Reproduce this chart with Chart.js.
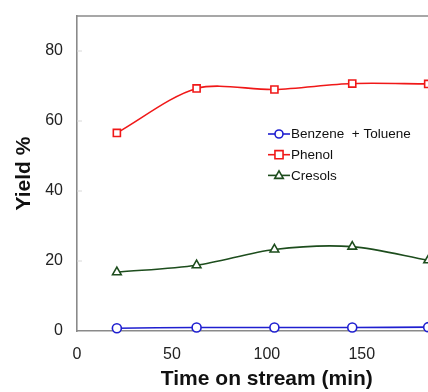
<!DOCTYPE html>
<html>
<head>
<meta charset="utf-8">
<script src="https://cdn.jsdelivr.net/npm/chart.js@4.4.0/dist/chart.umd.min.js"></script>
<style>
html,body{margin:0;padding:0;background:#fff;overflow:hidden;width:428px;height:392px;}
#wrap{position:absolute;left:0;top:0;width:484px;height:392px;}
</style>
</head>
<body>
<div id="wrap"><canvas id="c" width="484" height="392"></canvas></div>
<script>
const times = [21, 63, 104, 145, 185];
const benzeneToluene = [0.8, 1.0, 1.0, 1.0, 1.1];
const phenol = [56.6, 69.3, 69.0, 70.7, 70.6];
const cresols = [16.8, 18.8, 23.3, 24.1, 20.2];
const seriesNames = ['Benzene  + Toluene', 'Phenol', 'Cresols'];
const yTicks = [0, 20, 40, 60, 80];
const xTicks = [0, 50, 100, 150, 200];

const colors = ['#1f1fd0', '#f01818', '#1d4d1d'];
const styles = ['circle', 'rect', 'triangle'];
const radii = [4.5, 5, 5];

function pts(arr){ return times.map((t,i)=>({x:t,y:arr[i]})); }
const allData = [benzeneToluene, phenol, cresols];

const datasets = allData.map((d,i)=>({
  label: seriesNames[i],
  data: pts(d),
  showLine: true,
  borderColor: colors[i],
  backgroundColor: '#ffffff',
  borderWidth: 1.6,
  pointStyle: styles[i],
  pointRadius: radii[i],
  pointBorderWidth: 1.6,
  pointBackgroundColor: '#ffffff',
  pointBorderColor: colors[i],
  tension: 0.3,
  clip: false
}));

function drawMarker(ctx, style, x, y, r, color){
  ctx.save();
  ctx.strokeStyle = color; ctx.fillStyle = '#fff'; ctx.lineWidth = 1.6;
  ctx.beginPath();
  if(style==='circle'){ ctx.arc(x,y,r,0,Math.PI*2); }
  else if(style==='rect'){ const s=r*0.9; ctx.rect(x-s,y-s,2*s,2*s); }
  else { const s=r; ctx.moveTo(x,y-s); ctx.lineTo(x+s*0.95,y+s*0.65); ctx.lineTo(x-s*0.95,y+s*0.65); ctx.closePath(); }
  ctx.fill(); ctx.stroke();
  ctx.restore();
}

const decor = {
  id:'decor',
  afterDraw(chart){
    const ctx = chart.ctx, a = chart.chartArea;
    const ys = chart.scales.y;
    ctx.save();
    ctx.strokeStyle = '#8a8a8a'; ctx.lineWidth = 1.6;
    ctx.beginPath(); ctx.moveTo(a.left-0.8, a.top); ctx.lineTo(a.right, a.top); ctx.stroke();
    ctx.strokeStyle = '#d8d8d8'; ctx.lineWidth = 1;
    yTicks.forEach(v=>{ const py = ys.getPixelForValue(v); if(v>0){ctx.beginPath(); ctx.moveTo(a.left, py); ctx.lineTo(a.left+5, py); ctx.stroke();}});
    const lx = 268, ly0 = 134, dy = 20.7;
    ctx.font = '13.5px "Liberation Sans", Arial, sans-serif';
    ctx.textBaseline = 'middle'; ctx.textAlign = 'left';
    seriesNames.forEach((n,i)=>{
      const y = ly0 + i*dy;
      ctx.strokeStyle = colors[i]; ctx.lineWidth = 1.6;
      ctx.beginPath(); ctx.moveTo(lx, y); ctx.lineTo(lx+22, y); ctx.stroke();
      drawMarker(ctx, styles[i], lx+11, y, radii[i]-0.5, colors[i]);
      ctx.fillStyle = '#111';
      ctx.fillText(n, lx+23, y+0.5);
    });
    ctx.restore();
  }
};

new Chart(document.getElementById('c'), {
  type: 'scatter',
  data: { datasets },
  options: {
    responsive: false,
    animation: false,
    layout: { padding: { left: 0, top: 16, right: 0, bottom: 0 } },
    plugins: { legend: { display: false }, tooltip: { enabled: false } },
    scales: {
      x: {
        type: 'linear', min: 0, max: 200,
        afterBuildTicks(s){ s.ticks = xTicks.map(v=>({value:v})); },
        afterFit(s){ s.height = 61; },
        grid: { display: false, drawTicks: false },
        border: { display: true, color: '#8a8a8a', width: 1.6 },
        ticks: { padding: 14, color: '#222', font: { family: '"Liberation Sans", Arial, sans-serif', size: 16 }, maxRotation: 0 },
        title: { display: true, text: 'Time on stream (min)', color: '#111', padding: {top:0,bottom:0}, font: { family: '"Liberation Sans", Arial, sans-serif', size: 21, weight: 'bold' } }
      },
      y: {
        type: 'linear', min: 0, max: 90,
        afterBuildTicks(s){ s.ticks = yTicks.map(v=>({value:v})); },
        afterFit(s){ s.width = 77; s.paddingTop = 0; s.paddingBottom = 0; },
        grid: { display: false, drawTicks: false },
        border: { display: true, color: '#8a8a8a', width: 1.6 },
        ticks: { padding: 14, color: '#222', font: { family: '"Liberation Sans", Arial, sans-serif', size: 16 } },
        title: { display: true, text: 'Yield %', color: '#111', padding: {top:12,bottom:0}, font: { family: '"Liberation Sans", Arial, sans-serif', size: 21, weight: 'bold' } }
      }
    }
  },
  plugins: [decor]
});
</script>
</body>
</html>
